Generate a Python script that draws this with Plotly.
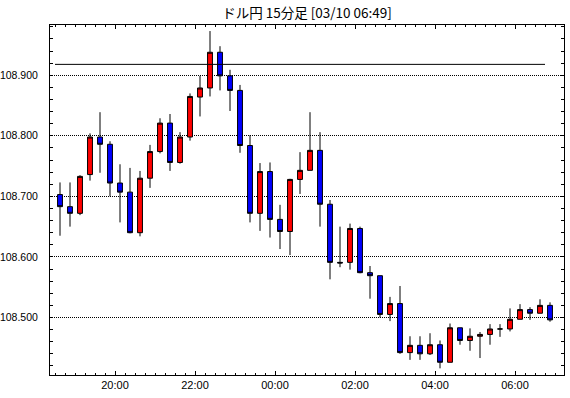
import pandas as pd
import plotly.graph_objects as go

title_text = "ドル円 15分足 [03/10 06:49]"
start_time = "2021-03-09 18:30"

opens = [108.703, 108.683, 108.672, 108.736, 108.798, 108.786, 108.722, 108.707, 108.640, 108.730,
         108.774, 108.821, 108.756, 108.798, 108.864, 108.879, 108.938, 108.899, 108.875, 108.784,
         108.672, 108.741, 108.662, 108.642, 108.728, 108.743, 108.776, 108.687, 108.591, 108.591,
         108.647, 108.574, 108.569, 108.505, 108.523, 108.442, 108.454, 108.440, 108.455, 108.426,
         108.483, 108.462, 108.469, 108.472, 108.481, 108.481, 108.497, 108.513, 108.507, 108.520]
highs = [108.723, 108.723, 108.735, 108.804, 108.839, 108.791, 108.753, 108.747, 108.742, 108.785,
         108.829, 108.836, 108.806, 108.870, 108.899, 108.973, 108.948, 108.909, 108.884, 108.801,
         108.755, 108.756, 108.686, 108.729, 108.773, 108.839, 108.806, 108.694, 108.650, 108.655,
         108.650, 108.585, 108.569, 108.534, 108.552, 108.469, 108.469, 108.474, 108.462, 108.490,
         108.483, 108.482, 108.476, 108.489, 108.489, 108.515, 108.522, 108.517, 108.530, 108.525]
lows = [108.635, 108.650, 108.669, 108.726, 108.739, 108.700, 108.657, 108.639, 108.634, 108.714,
        108.771, 108.742, 108.754, 108.792, 108.832, 108.865, 108.875, 108.841, 108.772, 108.657,
        108.643, 108.632, 108.613, 108.603, 108.704, 108.743, 108.650, 108.563, 108.583, 108.579,
        108.573, 108.531, 108.500, 108.494, 108.440, 108.430, 108.430, 108.438, 108.416, 108.426,
        108.455, 108.445, 108.433, 108.455, 108.468, 108.477, 108.497, 108.496, 108.507, 108.493]
closes = [108.683, 108.672, 108.733, 108.798, 108.786, 108.722, 108.707, 108.640, 108.730, 108.774,
          108.821, 108.756, 108.798, 108.865, 108.879, 108.938, 108.899, 108.875, 108.784, 108.672,
          108.741, 108.662, 108.642, 108.728, 108.743, 108.776, 108.687, 108.591, 108.590, 108.647,
          108.574, 108.569, 108.505, 108.523, 108.442, 108.454, 108.440, 108.455, 108.426, 108.483,
          108.462, 108.469, 108.472, 108.481, 108.481, 108.497, 108.513, 108.507, 108.520, 108.496]
ref_level = 108.918

y_tick_vals = [108.5, 108.6, 108.7, 108.8, 108.9]
y_tick_text = ["108.500", "108.600", "108.700", "108.800", "108.900"]

times = pd.date_range(start_time, periods=len(opens), freq="15min")

FONT = "Liberation Sans Narrow, Liberation Sans, Arial, sans-serif"

W, H = 570, 398

fig = go.Figure()
fig.add_trace(go.Candlestick(
    x=times, open=opens, high=highs, low=lows, close=closes,
    xperiod=900000, xperiodalignment="middle",
    increasing=dict(fillcolor="#ff0000", line=dict(color="black", width=1)),
    decreasing=dict(fillcolor="#0000ff", line=dict(color="black", width=1)),
    whiskerwidth=0, hoverinfo="skip", showlegend=False,
))
fig.add_trace(go.Scatter(
    x=[times[0], times[-1]], y=[ref_level, ref_level], mode="lines",
    line=dict(color="black", width=1), hoverinfo="skip", showlegend=False,
))

fig.update_layout(
    width=W, height=H,
    margin=dict(l=50, r=6, t=25, b=23, autoexpand=False),
    paper_bgcolor="white", plot_bgcolor="white",
    title=dict(text=title_text, x=0.5, xanchor="center", xref="paper",
               y=1 - 13 / H, yanchor="middle",
               font=dict(family="Noto Sans CJK JP", size=13.5, color="black")),
    showlegend=False,
    boxgap=0.3,
)
fig.update_xaxes(
    type="date", automargin=False,
    range=["2021-03-09 18:22:30", "2021-03-10 07:13:30"],
    rangeslider=dict(visible=False),
    tickformat="%H:%M", dtick=7200000, tick0="2021-03-09 00:00",
    ticks="inside", ticklen=4, tickcolor="black",
    minor=dict(dtick=900000, ticks="inside", ticklen=2, tickcolor="black", showgrid=False),
    showline=True, linecolor="black", linewidth=1, mirror="allticks",
    showgrid=False, zeroline=False,
    tickfont=dict(family=FONT, size=11, color="black"),
)
fig.update_yaxes(
    automargin=False,
    range=[108.405, 108.983],
    tickvals=y_tick_vals, ticktext=y_tick_text,
    ticks="inside", ticklen=3, tickcolor="black",
    minor=dict(dtick=0.02, tick0=108.4, ticks="inside", ticklen=3, tickcolor="black", showgrid=False),
    showline=True, linecolor="black", linewidth=1, mirror="allticks",
    showgrid=True, gridcolor="black", gridwidth=1, griddash="1px,1px",
    zeroline=False, ticklabelstandoff=9,
    tickfont=dict(family=FONT, size=10.5, color="black"),
)

fig.write_html("out.html", config={"displayModeBar": False},
               post_script="document.body.style.margin='0px';")
